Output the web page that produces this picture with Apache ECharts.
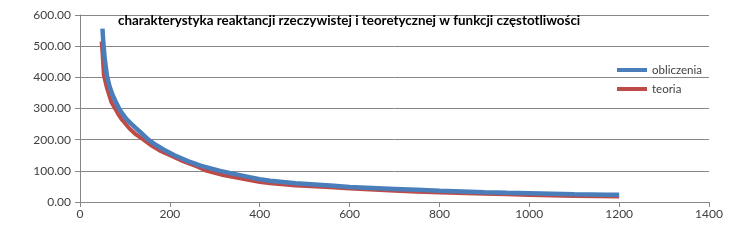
<!DOCTYPE html>
<html>
<head>
<meta charset="utf-8">
<script src="https://cdn.jsdelivr.net/npm/echarts@6/dist/echarts.min.js"></script>
<style>
  html, body { margin: 0; padding: 0; background: #fff; }
  #chart { width: 736px; height: 248px; }
</style>
</head>
<body>
<div id="chart"></div>
<script>
// czestotliwosc [Hz] -> reaktancja [ohm]
const fObliczenia = [50, 52, 55, 60, 66, 72, 80, 87, 95, 104, 113, 122, 135, 152, 170, 190, 210, 240, 270, 312, 340, 380, 400, 423, 480, 557, 600, 700, 750, 800, 900, 950, 1000, 1100, 1173, 1200];
const xObliczenia = [556, 510, 460, 405, 370, 345, 320, 300, 282, 265, 252, 240, 223, 200, 182, 165, 150, 131, 116, 100, 91, 79, 73, 68, 60, 53, 48, 42, 39, 36, 31.5, 29.5, 28, 25, 23.5, 23];

const fTeoria = [48, 50, 53, 60, 70, 78, 85, 94, 110, 125, 141, 160, 180, 200, 230, 260, 282, 320, 356, 400, 423, 480, 557, 600, 700, 750, 800, 900, 950, 1000, 1100, 1200];
const xTeoria = [515, 480, 407, 365, 320, 300, 282, 263, 236, 216, 200, 180, 163, 150, 130, 114, 100, 86, 76, 64, 60, 53, 47, 43, 36, 33, 30.5, 26.5, 24.5, 22.5, 19, 18];

const seriesNames = ['obliczenia', 'teoria'];
const tytul = 'charakterystyka reaktancji rzeczywistej i teoretycznej w funkcji częstotliwości';

function pary(xs, ys) {
  return xs.map((x, i) => [x, ys[i]]);
}

const chart = echarts.init(document.getElementById('chart'));

const axisGray = '#868686';
const labelColor = '#404040';

var option = {
  backgroundColor: '#ffffff',
  animation: false,
  textStyle: { fontFamily: 'Lato' },
  title: {
    text: tytul,
    left: 113,
    top: 9,
    textStyle: { fontFamily: 'Lato', fontWeight: 'bold', fontSize: 13.4, color: '#000' }
  },
  legend: {
    data: seriesNames,
    orient: 'vertical',
    left: 612,
    top: 59,
    icon: 'rect',
    itemWidth: 30,
    itemHeight: 4,
    itemGap: 7,
    textStyle: { fontSize: 11.5, color: labelColor, fontFamily: 'Lato' }
  },
  grid: { left: 80, right: 27, top: 15, bottom: 46 },
  xAxis: {
    type: 'value',
    min: 0,
    max: 1400,
    interval: 200,
    axisLine: { show: true, lineStyle: { color: axisGray } },
    axisTick: { show: true, length: 5, lineStyle: { color: axisGray } },
    axisLabel: { color: labelColor, fontSize: 12, margin: 6, formatter: v => String(v) },
    splitLine: { show: false }
  },
  yAxis: {
    type: 'value',
    min: 0,
    max: 600,
    interval: 100,
    axisLine: { show: true, lineStyle: { color: axisGray } },
    axisTick: { show: true, length: 5, lineStyle: { color: axisGray } },
    axisLabel: {
      color: labelColor,
      fontSize: 12,
      margin: 9,
      formatter: v => v.toFixed(2)
    },
    splitLine: { show: true, lineStyle: { color: axisGray, width: 1 } }
  },
  series: [
    {
      name: 'obliczenia',
      type: 'line',
      z: 3,
      symbol: 'none',
      data: pary(fObliczenia, xObliczenia),
      lineStyle: { color: '#4A7EBB', width: 4.5 },
      itemStyle: { color: '#4A7EBB' }
    },
    {
      name: 'teoria',
      type: 'line',
      z: 2,
      symbol: 'none',
      data: pary(fTeoria, xTeoria),
      lineStyle: { color: '#BE4B48', width: 4 },
      itemStyle: { color: '#BE4B48' }
    }
  ]
};

chart.setOption(option);
</script>
</body>
</html>
